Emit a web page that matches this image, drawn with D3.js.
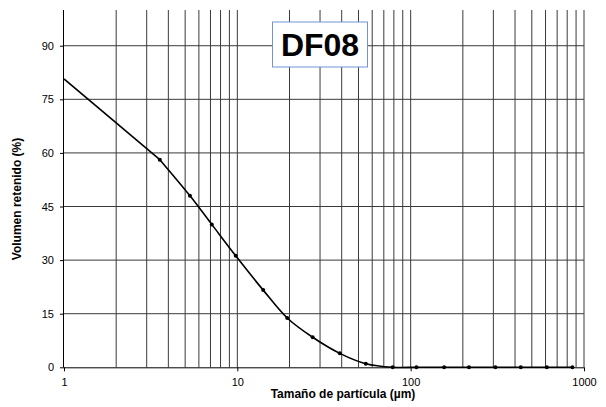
<!DOCTYPE html>
<html>
<head>
<meta charset="utf-8">
<script src="https://cdn.jsdelivr.net/npm/d3@7"></script>
<style>
  html, body { margin: 0; padding: 0; background: #fff; }
  svg { display: block; font-family: "Liberation Sans", Arial, sans-serif; }
</style>
</head>
<body>
<svg id="chart" width="606" height="407"></svg>
<script>
// Particle size distribution: retained volume (%) against particle size (µm)
const sampleName = "DF08";
const sizes = [1, 3.57, 5.33, 7.12, 9.79, 14.1, 19.4, 27.2, 39.0, 55.1, 78.8, 108, 156, 217, 308, 432, 610, 857];
const retained = [80.7, 58.1, 48.0, 40.0, 31.2, 21.6, 13.8, 8.4, 3.9, 1.0, 0, 0, 0, 0, 0, 0, 0, 0];
const xTickValues = [1, 10, 100, 1000];
const yTickValues = [0, 15, 30, 45, 60, 75, 90];
const xTitle = "Tamaño de partícula (µm)";
const yTitle = "Volumen retenido (%)";

const svg = d3.select("#chart");
const m = { left: 64, right: 22, top: 10, bottom: 39.7 };
const W = 606, H = 407;

const x = d3.scaleLog().domain([1, 1000]).range([m.left, W - m.right]);
const y = d3.scaleLinear().domain([0, 100]).range([H - m.bottom, m.top]);

// Vertical grid: every integer step inside each decade
const minorGrid = [];
for (let d = 1; d < 1000; d *= 10) {
  for (let k = 2; k <= 10; k++) minorGrid.push(d * k);
}
svg.append("g").selectAll("line").data(minorGrid).join("line")
  .attr("x1", d => x(d)).attr("x2", d => x(d))
  .attr("y1", y(100)).attr("y2", y(0))
  .attr("stroke", "#3a3a3a").attr("stroke-width", 1);

// Horizontal grid
svg.append("g").selectAll("line").data(yTickValues.filter(v => v > 0)).join("line")
  .attr("x1", x(1)).attr("x2", x(1000))
  .attr("y1", d => y(d)).attr("y2", d => y(d))
  .attr("stroke", "#3a3a3a").attr("stroke-width", 1);

// Axes
const yAxis = svg.append("g").attr("transform", `translate(${m.left},0)`)
  .call(d3.axisLeft(y).tickValues(yTickValues).tickSize(4).tickPadding(6).tickFormat(d3.format("d")));
yAxis.select(".domain").attr("d", `M-0.5,${y(100)}V${y(0)}`).attr("stroke", "#000");
const xAxis = svg.append("g").attr("transform", `translate(0,${y(0)})`)
  .call(d3.axisBottom(x).tickValues(xTickValues).tickSize(4).tickPadding(7).tickFormat(d3.format("d")));
xAxis.select(".domain").attr("d", `M${x(1)},0.5H${x(1000)}`).attr("stroke", "#000");
svg.selectAll(".tick text").attr("font-size", 11).attr("fill", "#000")
  .attr("font-family", "Liberation Sans, Arial, sans-serif");
svg.selectAll(".tick line").attr("stroke", "#000");

// Curve and markers: straight run from the left edge, smoothed through the measured points
svg.append("clipPath").attr("id", "plotClip").append("rect")
  .attr("x", m.left).attr("y", m.top).attr("width", W - m.left - m.right).attr("height", H - m.top - m.bottom + 3);
const pts = sizes.map((s, i) => [s, retained[i]]);
const lineStraight = d3.line().x(d => x(d[0])).y(d => y(d[1]));
const lineSmooth = d3.line().x(d => x(d[0])).y(d => y(d[1])).curve(d3.curveCatmullRom.alpha(0.5));
const plot = svg.append("g").attr("clip-path", "url(#plotClip)");
plot.append("path").datum(pts.slice(0, 2)).attr("d", lineStraight)
  .attr("fill", "none").attr("stroke", "#000").attr("stroke-width", 1.6);
plot.append("path").datum(pts.slice(1)).attr("d", lineSmooth)
  .attr("fill", "none").attr("stroke", "#000").attr("stroke-width", 1.6);
plot.selectAll("circle").data(pts.slice(1)).join("circle")
  .attr("cx", d => x(d[0])).attr("cy", d => y(d[1])).attr("r", 2).attr("fill", "#000");

// Sample label box
const bx = 272.5, by = 22, bw = 95, bh = 45;
svg.append("rect").attr("x", bx).attr("y", by).attr("width", bw).attr("height", bh)
  .attr("fill", "#fff").attr("stroke", "#6f95d6").attr("stroke-width", 1);
svg.append("text").attr("x", bx + bw / 2).attr("y", by + 34)
  .attr("text-anchor", "middle").attr("font-size", 32).attr("font-weight", "bold")
  .text(sampleName);

// Axis titles
svg.append("text").attr("x", 343).attr("y", 398).attr("text-anchor", "middle")
  .attr("font-size", 12).attr("font-weight", "bold").text(xTitle);
svg.append("text").attr("transform", `translate(21,199) rotate(-90)`)
  .attr("text-anchor", "middle").attr("font-size", 12).attr("font-weight", "bold").text(yTitle);
</script>
</body>
</html>
